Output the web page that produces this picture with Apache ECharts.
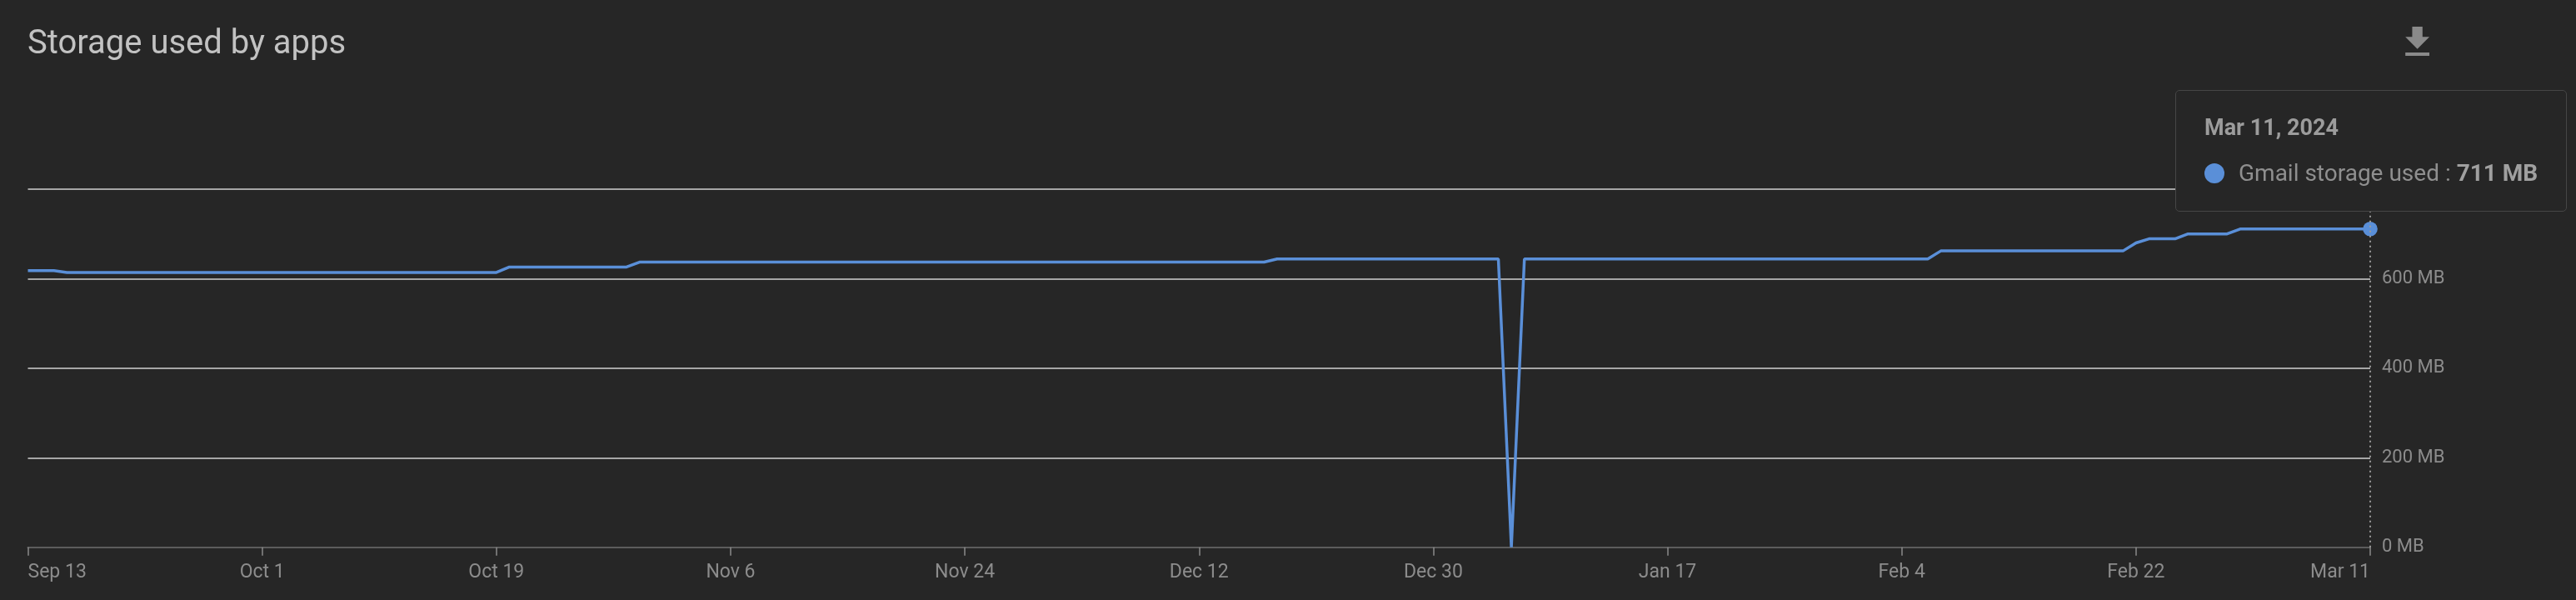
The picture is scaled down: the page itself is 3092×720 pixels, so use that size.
<!DOCTYPE html>
<html>
<head>
<meta charset="utf-8">
<title>Storage used by apps</title>
<script src="https://cdn.jsdelivr.net/npm/echarts@6/dist/echarts.min.js"></script>
<style>
  html, body { margin: 0; padding: 0; background: #262626; }
  #storage { width: 3092px; height: 720px; }
</style>
</head>
<body>
<div id="storage"></div>
<script>
// daily Gmail storage, MB, Sep 13 2023 .. Mar 11 2024
const startDate = [2023, 8, 13];
const dayCount = 181;
const gmailMB = [
  618, 618, 618,
  614, 614, 614, 614, 614, 614, 614, 614, 614, 614,
  614, 614, 614, 614, 614, 614, 614, 614, 614, 614,
  614, 614, 614, 614, 614, 614, 614, 614, 614, 614,
  614, 614, 614, 614,
  626, 626, 626, 626, 626, 626, 626, 626, 626, 626,
  637, 637, 637, 637, 637, 637, 637, 637, 637, 637,
  637, 637, 637, 637, 637, 637, 637, 637, 637, 637,
  637, 637, 637, 637, 637, 637, 637, 637, 637, 637,
  637, 637, 637, 637, 637, 637, 637, 637, 637, 637,
  637, 637, 637, 637, 637, 637, 637, 637, 637,
  644, 644, 644, 644, 644, 644, 644, 644, 644, 644,
  644, 644, 644, 644, 644, 644, 644, 644,
  0,
  644, 644, 644, 644, 644, 644, 644, 644, 644, 644,
  644, 644, 644, 644, 644, 644, 644, 644, 644, 644,
  644, 644, 644, 644, 644, 644, 644, 644, 644, 644,
  644, 644,
  662, 662, 662, 662, 662, 662, 662, 662, 662, 662,
  662, 662, 662, 662, 662,
  680,
  689, 689, 689,
  700, 700, 700, 700,
  711, 711, 711, 711, 711, 711, 711, 711, 711, 711,
  711
];
const yTicks = [0, 200, 400, 600, 800];
const monthNames = ["Jan", "Feb", "Mar", "Apr", "May", "Jun", "Jul", "Aug", "Sep", "Oct", "Nov", "Dec"];

const days = [];
for (let i = 0; i < dayCount; i++) {
  days.push(new Date(Date.UTC(startDate[0], startDate[1], startDate[2] + i)));
}
const dayLabels = days.map((d) => monthNames[d.getUTCMonth()] + " " + d.getUTCDate());
const lastIndex = gmailMB.length - 1;

const chart = echarts.init(document.getElementById("storage"));
const option = {
  backgroundColor: "#262626",
  animation: false,
  textStyle: { fontFamily: "Roboto, sans-serif" },
  title: {
    text: "Storage used by apps",
    left: 33,
    top: 34,
    padding: 0,
    textStyle: {
      color: "#c2c2c2",
      fontSize: 40,
      fontWeight: "normal",
      fontFamily: "Roboto, sans-serif",
    },
  },
  toolbox: {
    right: 176,
    top: 32,
    padding: 0,
    itemSize: 35,
    feature: {
      saveAsImage: {
        title: "",
        icon: "path://M19 9h-4V3H9v6H5l7 7 7-7zM5 18v2h14v-2H5z",
      },
    },
    iconStyle: { color: "#8a8a8a", borderWidth: 0 },
    emphasis: { iconStyle: { color: "#9a9a9a", borderWidth: 0 } },
  },
  grid: {
    left: 33.5,
    right: 247,
    top: 227,
    bottom: 63.3,
  },
  tooltip: {
    trigger: "axis",
    triggerOn: "none",
    alwaysShowContent: true,
    transitionDuration: 0,
    backgroundColor: "#262626",
    borderColor: "#464646",
    borderWidth: 1.5,
    borderRadius: 5,
    padding: [28, 34, 28, 34],
    extraCssText: "box-shadow:none;",
    position: () => [2611, 108],
    axisPointer: {
      type: "line",
      lineStyle: { color: "#9a9a9a", width: 2, type: [2, 4] },
    },
    formatter: (params) => {
      const p = params[0];
      const d = days[p.dataIndex];
      const title = monthNames[d.getUTCMonth()] + " " + d.getUTCDate() + ", " + d.getUTCFullYear();
      return (
        '<div style="font-family:Roboto;font-size:27px;line-height:32px;font-weight:bold;color:#9c9c9c;margin-bottom:22px;">' +
        title +
        "</div>" +
        '<div style="font-family:Roboto;font-size:28px;line-height:34px;color:#8f8f8f;white-space:nowrap;">' +
        '<span style="display:inline-block;width:24px;height:24px;border-radius:50%;background:#5a8fd8;margin-right:17px;vertical-align:-3px;"></span>' +
        "Gmail storage used : " +
        '<b style="color:#a0a0a0;">' + p.value + " MB</b></div>"
      );
    },
  },
  xAxis: {
    type: "category",
    boundaryGap: false,
    data: dayLabels,
    axisLine: { lineStyle: { color: "#5c5c5c", width: 2 } },
    axisTick: { interval: 17, length: 10, lineStyle: { color: "#8a8a8a", width: 1.5 } },
    axisLabel: {
      interval: 17,
      color: "#8c8c8c",
      fontSize: 23,
      margin: 19,
      alignMinLabel: "left",
      alignMaxLabel: "right",
    },
    splitLine: { show: false },
  },
  yAxis: {
    type: "value",
    position: "right",
    min: yTicks[0],
    max: yTicks[yTicks.length - 1],
    interval: yTicks[1] - yTicks[0],
    axisLine: { show: false },
    axisTick: { show: false },
    axisLabel: {
      color: "#8c8c8c",
      fontSize: 22,
      margin: 14,
      formatter: "{value} MB",
    },
    splitLine: { lineStyle: { color: "#d2d2d2", width: 1.5 } },
  },
  series: [
    {
      name: "Gmail storage used",
      type: "line",
      data: gmailMB,
      showSymbol: true,
      symbol: "circle",
      symbolSize: (val, params) => (params.dataIndex === lastIndex ? 16 : 0),
      itemStyle: { color: "#5a8fd8" },
      lineStyle: { color: "#5a8fd8", width: 3.5 },
      emphasis: { disabled: true },
    },
  ],
};
chart.setOption(option);
chart.dispatchAction({ type: "showTip", seriesIndex: 0, dataIndex: lastIndex });
</script>
</body>
</html>
